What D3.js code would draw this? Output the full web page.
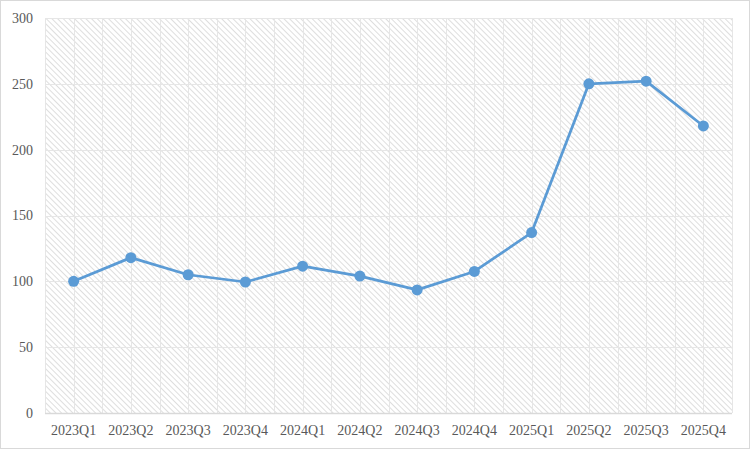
<!DOCTYPE html>
<html><head><meta charset="utf-8">
<script src="https://cdn.jsdelivr.net/npm/d3@7"></script>
<style>body{margin:0;background:#fff}svg{display:block}</style>
</head><body><svg id="c" width="750" height="449"></svg>
<script>
const categories = ["2023Q1","2023Q2","2023Q3","2023Q4","2024Q1","2024Q2","2024Q3","2024Q4","2025Q1","2025Q2","2025Q3","2025Q4"];
const values = [100, 118, 105, 99.5, 111.5, 104, 93.5, 107.5, 137, 250, 252, 218];
const yTicks = [0, 50, 100, 150, 200, 250, 300];

const svg = d3.select("#c");
const W = 750, H = 449;
const m = {left: 45, right: 18, top: 18, bottom: 36};
const x0 = m.left, x1 = W - m.right, y0 = H - m.bottom, y1 = m.top;

svg.append("rect").attr("x",0.5).attr("y",0.5).attr("width",W-1).attr("height",H-1)
  .attr("fill","#fff").attr("stroke","#d9d9d9");

const defs = svg.append("defs");
const pat = defs.append("pattern").attr("id","hatch").attr("patternUnits","userSpaceOnUse")
  .attr("width",4).attr("height",4).attr("patternTransform","rotate(45)");
pat.append("rect").attr("width",4).attr("height",4).attr("fill","#fff");
pat.append("line").attr("x1",0).attr("y1",0).attr("x2",4).attr("y2",0)
  .attr("stroke","#d6d6d6").attr("stroke-width",1.6);

const x = d3.scaleBand().domain(categories).range([x0, x1]);
const y = d3.scaleLinear().domain([0, 300]).range([y0, y1]);

svg.append("rect").attr("x",x0).attr("y",y1).attr("width",x1-x0).attr("height",y0-y1)
  .attr("fill","url(#hatch)");

// vertical gridlines at category boundaries and centers
const vx = [];
categories.forEach(c => { vx.push(x(c)); vx.push(x(c) + x.bandwidth()/2); });
vx.push(x1);
svg.append("g").selectAll("line").data(vx).join("line")
  .attr("x1",d=>Math.round(d)+0.5).attr("x2",d=>Math.round(d)+0.5)
  .attr("y1",y1).attr("y2",y0).attr("stroke","#e6e6e6").attr("stroke-width",1);
svg.append("g").selectAll("line").data(yTicks).join("line")
  .attr("x1",x0).attr("x2",x1)
  .attr("y1",d=>Math.round(y(d))+0.5).attr("y2",d=>Math.round(y(d))+0.5)
  .attr("stroke",d=>d===0?"#d9d9d9":"#e6e6e6").attr("stroke-width",d=>d===0?1.5:1);

// axes
const yAxis = d3.axisLeft(y).tickValues(yTicks).tickSize(0).tickPadding(12);
const gy = svg.append("g").attr("transform",`translate(${x0},0)`).call(yAxis);
gy.select(".domain").remove();
const xAxis = d3.axisBottom(x).tickSize(0).tickPadding(12);
const gx = svg.append("g").attr("transform",`translate(0,${y0})`).call(xAxis);
gx.select(".domain").remove();
svg.selectAll(".tick text").attr("font-family","'Liberation Serif','Times New Roman',serif")
  .attr("font-size",14).attr("fill","#595959");

const cx = c => x(c) + x.bandwidth()/2;
const line = d3.line().x((d,i)=>cx(categories[i])).y(d=>y(d));
svg.append("path").datum(values).attr("d",line).attr("fill","none")
  .attr("stroke","#5b9bd5").attr("stroke-width",2.75).attr("stroke-linejoin","round");
svg.append("g").selectAll("circle").data(values).join("circle")
  .attr("cx",(d,i)=>cx(categories[i])).attr("cy",d=>y(d)).attr("r",5.5)
  .attr("fill","#5b9bd5");
</script></body></html>
